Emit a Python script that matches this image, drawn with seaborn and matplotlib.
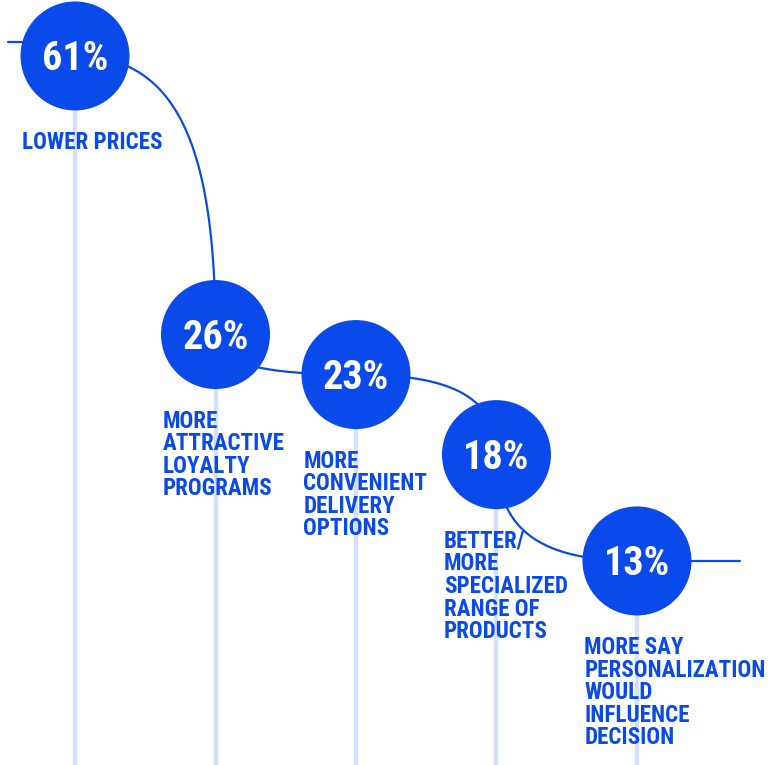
"""
drivers of store choice
circles joined by a curve, with drop lines and labels
"""

import numpy as np
import pandas as pd
import seaborn as sns
import matplotlib.pyplot as plt
from matplotlib import font_manager

categories = [
    "LOWER PRICES",
    "MORE\nATTRACTIVE\nLOYALTY\nPROGRAMS",
    "MORE\nCONVENIENT\nDELIVERY\nOPTIONS",
    "BETTER/\nMORE\nSPECIALIZED\nRANGE OF\nPRODUCTS",
    "MORE SAY\nPERSONALIZATION\nWOULD\nINFLUENCE\nDECISION",
]
shares = [61, 26, 23, 18, 13]
share_labels = ["61%", "26%", "23%", "18%", "13%"]

BLUE = "#0B4AEA"
PALE = "#D6E0FA"

installed = {f.name for f in font_manager.fontManager.ttflist}
FONT = "Roboto"
for name in ["Roboto Condensed", "Liberation Sans Narrow"]:
    if name in installed:
        FONT = name
        break

sns.set_theme(style="white")
plt.rcParams["font.family"] = [FONT, "DejaVu Sans"]

df = pd.DataFrame({"pos": range(len(shares)), "share": shares})

fig = plt.figure(figsize=(7.7, 7.65), dpi=100)
ax = fig.add_axes([0, 0, 1, 1])
ax.set_yscale("log")

y_bottom, y_top = 6.96, 72.4

# pale drop lines under every circle
ax.vlines(df["pos"], y_bottom, df["share"], color=PALE, lw=3.2, zorder=1)

sns.scatterplot(data=df, x="pos", y="share", s=6160, color=BLUE,
                edgecolor="none", linewidth=0, legend=False, ax=ax, zorder=3)

ax.set_xlim(-0.534, 4.947)
ax.set_ylim(y_bottom, y_top)
ax.axis("off")


def fit_size(text, width_px, size=16):
    # shrink or grow the font so the text is about width_px wide
    r = fig.canvas.get_renderer()
    tmp = ax.text(0, 10, text, fontsize=size, fontweight="bold")
    w = tmp.get_window_extent(r).width
    tmp.remove()
    return size * width_px / w


label_size = fit_size("PERSONALIZATION", 181)
share_size = fit_size("61%", 66, 31)

# connecting curve: bezier pieces in pixel space, flat at even points,
# upright at odd points
pix = ax.transData.transform(np.column_stack([df["pos"], df["share"]]))
k = 0.7
t = np.linspace(0, 1, 60)[:, None]
pieces = []
for i in range(len(pix) - 1):
    p0, p3 = pix[i], pix[i + 1]
    dx, dy = p3 - p0
    if i % 2 == 0:
        c1 = p0 + [k * dx, 0]
        c2 = p3 - [0, k * dy]
    else:
        c1 = p0 + [0, k * dy]
        c2 = p3 - [k * dx, 0]
    seg = ((1 - t) ** 3 * p0 + 3 * (1 - t) ** 2 * t * c1
           + 3 * (1 - t) * t ** 2 * c2 + t ** 3 * p3)
    pieces.append(seg)
curve = ax.transData.inverted().transform(np.vstack(pieces))
ax.plot(curve[:, 0], curve[:, 1], color=BLUE, lw=1.6, zorder=2)
ax.plot([-0.48, 0], [shares[0] * 1.045] * 2, color=BLUE, lw=1.6, zorder=2)
ax.plot([4, 4.73], [shares[-1]] * 2, color=BLUE, lw=1.6, zorder=2)

for i, (name, val, lab) in enumerate(zip(categories, shares, share_labels)):
    ax.annotate(lab, (i, val), xytext=(0, -0.36 * share_size),
                textcoords="offset points", ha="center", va="baseline",
                color="white", fontsize=share_size, fontweight="bold", zorder=4)
    ax.annotate(name, (i, val), xytext=(-38, -54), textcoords="offset points",
                ha="left", va="top", color=BLUE, fontsize=label_size,
                fontweight="bold", linespacing=0.98, zorder=4)

plt.savefig("out.png", dpi=100)
